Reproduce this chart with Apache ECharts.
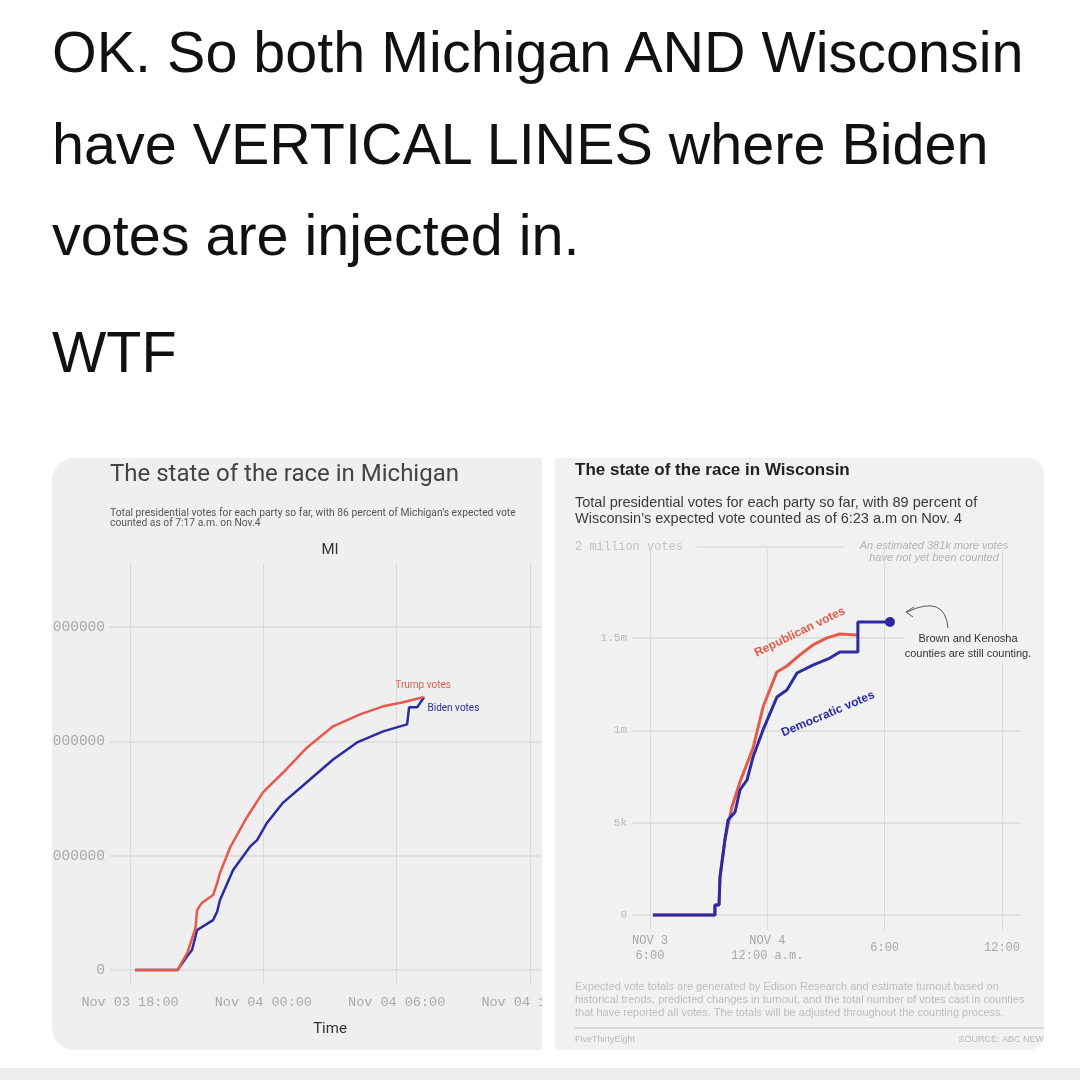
<!DOCTYPE html>
<html>
<head>
<meta charset="utf-8">
<script src="https://cdn.jsdelivr.net/npm/echarts@6/dist/echarts.min.js"></script>
<style>
    html, body { margin: 0; padding: 0; background: #fff; }
    body { width: 1080px; height: 1080px; position: relative; overflow: hidden; }
    .tweet { position: absolute; left: 52px; font-family: 'Liberation Sans', Arial, sans-serif;
             font-size: 57.5px; line-height: 57px; color: #111; white-space: nowrap; }
    .panel { position: absolute; top: 458px; height: 592px; overflow: hidden; }
    #miPanel { left: 52px; width: 490px; background: #efefef; border-radius: 22px 0 0 22px; }
    #wiPanel { left: 555px; width: 489px; background: #f1f1f1; border-radius: 0 16px 16px 0; }
    .chart { position: absolute; top: -458px; width: 1080px; height: 1080px; }
    #mi { left: -52px; }
    #wi { left: -555px; }
    #strip { position: absolute; left: 0; top: 1068px; width: 1080px; height: 12px; background: #efefef; }
</style>
</head>
<body>
<div class="tweet" style="top:24px">OK. So both Michigan AND Wisconsin</div>
<div class="tweet" style="top:116px">have VERTICAL LINES where Biden</div>
<div class="tweet" style="top:207px">votes are injected in.</div>
<div class="tweet" style="top:324px">WTF</div>
<div class="panel" id="miPanel"><div class="chart" id="mi"></div></div>
<div class="panel" id="wiPanel"><div class="chart" id="wi"></div></div>
<div id="strip"></div>
<script>
(function(){

    // hours are counted from Nov 03 00:00
    var miTicks = [18, 24, 30, 36];
    var miTickLabels = ['Nov 03 18:00', 'Nov 04 00:00', 'Nov 04 06:00', 'Nov 04 12:00'];
    var miVoteTicks = ['0', '1000000', '2000000', '3000000'];

    var miTrumpHours = [18.23, 20.14, 20.6, 20.95, 21.02, 21.24, 21.74, 21.92, 22.05, 22.5, 23.27, 23.99, 24.89, 25.97, 27.14, 28.35, 29.39, 30.29, 31.19];
    var miTrumpVotes = [0, 0, 160000, 370000, 526000, 588000, 656000, 760000, 850000, 1070000, 1339000, 1557000, 1728000, 1947000, 2132000, 2237000, 2307000, 2342000, 2386000];

    var miBidenHours = [18.23, 20.14, 20.57, 20.79, 21.02, 21.74, 21.92, 22.05, 22.64, 23.4, 23.72, 24.17, 24.89, 26.1, 27.14, 28.22, 29.39, 30.47, 30.56, 30.56, 30.92, 31.23];
    var miBidenVotes = [0, 0, 120000, 175000, 350000, 437000, 510000, 612000, 875000, 1079000, 1137000, 1289000, 1465000, 1667000, 1842000, 1991000, 2088000, 2149000, 2149000, 2298000, 2298000, 2386000];

    var wiTicks = [18, 24, 30, 36];
    var wiTickLabels = ['NOV 3\n6:00', 'NOV 4\n12:00 a.m.', '6:00', '12:00'];
    var wiVoteTicks = ['0', '5k', '1m', '1.5m'];

    var wiRepHours = [18.15, 21.32, 21.32, 21.53, 21.58, 21.83, 22.19, 22.6, 23.27, 23.78, 24.49, 25.0, 25.67, 26.33, 27.05, 27.71, 28.58];
    var wiRepVotes = [0, 0, 54000, 54000, 206000, 406000, 585000, 720000, 904000, 1126000, 1316000, 1348000, 1408000, 1462000, 1500000, 1521000, 1516000];

    var wiDemHours = [18.15, 21.32, 21.32, 21.53, 21.58, 21.83, 21.99, 22.35, 22.6, 22.96, 23.27, 23.78, 24.49, 25.0, 25.52, 26.33, 27.2, 27.71, 28.63, 28.63, 30.27];
    var wiDemVotes = [0, 0, 54000, 54000, 206000, 406000, 514000, 558000, 677000, 731000, 855000, 1002000, 1180000, 1218000, 1310000, 1353000, 1391000, 1424000, 1424000, 1586000, 1586000];

    var red = '#e45a4b';
    var blue = '#2b2ba2';
    var mono = '"Liberation Mono", "DejaVu Sans Mono", monospace';

    function pairs(hours, votes){
        return hours.map(function(h, i){ return [h, votes[i]]; });
    }

    // ---------- Michigan ----------
    var trumpData = pairs(miTrumpHours, miTrumpVotes);
    var bidenData = pairs(miBidenHours, miBidenVotes);
    trumpData[trumpData.length - 1] = {
        value: trumpData[trumpData.length - 1], symbol: 'circle', symbolSize: 1,
        label: { show: true, position: 'top', distance: 6, formatter: 'Trump votes', color: red, fontSize: 10, fontFamily: 'Roboto' }
    };
    bidenData[bidenData.length - 1] = {
        value: bidenData[bidenData.length - 1], symbol: 'circle', symbolSize: 1,
        label: { show: true, position: 'right', distance: 3, offset: [0, 11], formatter: 'Biden votes', color: blue, fontSize: 10, fontFamily: 'Roboto' }
    };

    var mi = echarts.init(document.getElementById('mi'));
    mi.setOption({
        animation: false,
        graphic: [
            { type: 'text', x: 110, y: 475, style: { text: 'The state of the race in Michigan', font: '24px Roboto', fill: '#444', verticalAlign: 'middle' } },
            { type: 'text', x: 110, y: 509, style: { text: 'Total presidential votes for each party so far, with 86 percent of Michigan\u2019s expected vote\ncounted as of 7:17 a.m. on Nov.4', font: '10.3px Roboto', lineHeight: 9.5, fill: '#555' } },
            { type: 'text', x: 330, y: 550, style: { text: 'MI', font: '15px Roboto', fill: '#333', align: 'center', verticalAlign: 'middle' } }
        ],
        grid: [
            { left: 130, right: 550, top: 563, bottom: 95 },
            { left: 110, right: 532, top: 627, bottom: 110 }
        ],
        xAxis: [
            {
                gridIndex: 0, type: 'value', min: 18, max: 36, interval: 6,
                axisLine: { show: false }, axisTick: { show: false },
                splitLine: { show: true, lineStyle: { color: '#dadada', width: 1 } },
                axisLabel: {
                    formatter: function(v){ return miTickLabels[miTicks.indexOf(v)]; },
                    color: '#a8a8a8', fontFamily: mono, fontSize: 13.5, margin: 10,
                    showMinLabel: true, showMaxLabel: true
                },
                name: 'Time', nameLocation: 'middle', nameGap: 37,
                nameTextStyle: { color: '#333', fontSize: 15, fontFamily: 'Roboto' }
            },
            { gridIndex: 1, type: 'value', min: 0, max: 1, show: false }
        ],
        yAxis: [
            { gridIndex: 0, type: 'value', min: -131000, max: 3561000, show: false },
            {
                gridIndex: 1, type: 'value', min: 0, max: 3000000, interval: 1000000,
                axisLine: { show: false }, axisTick: { show: false },
                splitLine: { lineStyle: { color: '#dadada', width: 1.5 } },
                axisLabel: {
                    formatter: function(v){ return miVoteTicks[Math.round(v / 1000000)]; },
                    color: '#a8a8a8', fontFamily: mono, fontSize: 14.5, margin: 5
                }
            }
        ],
        series: [
            { name: 'Biden votes', type: 'line', xAxisIndex: 0, yAxisIndex: 0, symbol: 'none',
              data: bidenData, lineStyle: { color: blue, width: 2.5 }, itemStyle: { color: blue } },
            { name: 'Trump votes', type: 'line', xAxisIndex: 0, yAxisIndex: 0, symbol: 'none',
              data: trumpData, lineStyle: { color: red, width: 2.5 }, itemStyle: { color: red } }
        ]
    });

    // ---------- Wisconsin ----------
    var repData = pairs(wiRepHours, wiRepVotes);
    var demData = pairs(wiDemHours, wiDemVotes);
    demData[demData.length - 1] = { value: demData[demData.length - 1], symbol: 'circle', symbolSize: 10 };

    var deg = Math.PI / 180;
    var wi = echarts.init(document.getElementById('wi'));
    wi.setOption({
        animation: false,
        graphic: [
            { type: 'text', x: 575, y: 470, style: { text: 'The state of the race in Wisconsin', font: 'bold 17px "Liberation Sans"', fill: '#222', verticalAlign: 'middle' } },
            { type: 'text', x: 575, y: 495, style: { text: 'Total presidential votes for each party so far, with 89 percent of\nWisconsin\u2019s expected vote counted as of 6:23 a.m on Nov. 4', font: '14.5px "Liberation Sans"', lineHeight: 16, fill: '#3a3a3a' } },
            { type: 'text', x: 575, y: 547, style: { text: '2 million votes', font: '12px ' + mono, fill: '#c2c2c2', verticalAlign: 'middle' } },
            { type: 'line', shape: { x1: 697, y1: 547, x2: 843, y2: 547 }, style: { stroke: '#d0d0d0', lineWidth: 1 } },
            { type: 'text', x: 934, y: 552, style: { text: 'An estimated 381k more votes\nhave not yet been counted', font: 'italic 11px "Liberation Sans"', lineHeight: 12, fill: '#b3b3b3', align: 'center', verticalAlign: 'middle' } },
            { type: 'text', x: 800, y: 632, rotation: 26 * deg, style: { text: 'Republican votes', font: 'bold 12px "Liberation Sans"', fill: red, align: 'center', verticalAlign: 'middle' }, z: 10 },
            { type: 'text', x: 828, y: 714, rotation: 23 * deg, style: { text: 'Democratic votes', font: 'bold 12px "Liberation Sans"', fill: blue, align: 'center', verticalAlign: 'middle' }, z: 10 },
            { type: 'text', x: 968, y: 646, z: 10, style: { text: 'Brown and Kenosha\ncounties are still counting.', font: '11px "Liberation Sans"', lineHeight: 15, fill: '#333', align: 'center', verticalAlign: 'middle', backgroundColor: '#f1f1f1' } },
            { type: 'bezierCurve', shape: { x1: 948, y1: 628, cpx1: 945, cpy1: 594, x2: 907, y2: 612 }, style: { stroke: '#555', lineWidth: 1, fill: null } },
            { type: 'polyline', shape: { points: [[914, 607], [906, 612], [913, 617]] }, style: { stroke: '#555', lineWidth: 1, fill: null } },
            { type: 'text', x: 575, y: 981, style: { text: 'Expected vote totals are generated by Edison Research and estimate turnout based on\nhistorical trends, predicted changes in turnout, and the total number of votes cast in counties\nthat have reported all votes. The totals will be adjusted throughout the counting process.', font: '11px "Liberation Sans"', lineHeight: 12.7, fill: '#bdbdbd' } },
            { type: 'line', shape: { x1: 575, y1: 1028, x2: 1044, y2: 1028 }, style: { stroke: '#cdcdcd', lineWidth: 1.5 } },
            { type: 'text', x: 575, y: 1040, style: { text: 'FiveThirtyEight', font: '9px "Liberation Sans"', fill: '#b8b8b8', verticalAlign: 'middle' } },
            { type: 'text', x: 1050, y: 1040, style: { text: 'SOURCE: ABC NEWS', font: '9px "Liberation Sans"', fill: '#b8b8b8', align: 'right', verticalAlign: 'middle' } }
        ],
        grid: [
            { left: 650, right: 78, top: 550, bottom: 150 },
            { left: 632, right: 60, top: 638, bottom: 165 }
        ],
        xAxis: [
            {
                gridIndex: 0, type: 'value', min: 18, max: 36, interval: 6,
                axisLine: { show: false }, axisTick: { show: false },
                splitLine: { show: true, lineStyle: { color: '#dadada', width: 1 } },
                axisLabel: {
                    formatter: function(v){ return wiTickLabels[wiTicks.indexOf(v)]; },
                    color: '#a8a8a8', fontFamily: mono, fontSize: 12, lineHeight: 15,
                    verticalAlign: 'middle', margin: 18, showMinLabel: true, showMaxLabel: true
                }
            },
            { gridIndex: 1, type: 'value', min: 0, max: 1, show: false }
        ],
        yAxis: [
            { gridIndex: 0, type: 'value', min: -81000, max: 1976000, show: false },
            {
                gridIndex: 1, type: 'value', min: 0, max: 1500000, interval: 500000,
                axisLine: { show: false }, axisTick: { show: false },
                splitLine: { lineStyle: { color: '#dadada', width: 1.5 } },
                axisLabel: {
                    formatter: function(v){ return wiVoteTicks[Math.round(v / 500000)]; },
                    color: '#b8b8b8', fontFamily: mono, fontSize: 11, margin: 5
                }
            }
        ],
        series: [
            { name: 'Republican votes', type: 'line', xAxisIndex: 0, yAxisIndex: 0, symbol: 'none',
              data: repData, lineStyle: { color: red, width: 3 }, itemStyle: { color: red } },
            { name: 'Democratic votes', type: 'line', xAxisIndex: 0, yAxisIndex: 0, symbol: 'none',
              data: demData, lineStyle: { color: blue, width: 3 }, itemStyle: { color: blue } }
        ]
    });

})();
</script>
</body>
</html>
